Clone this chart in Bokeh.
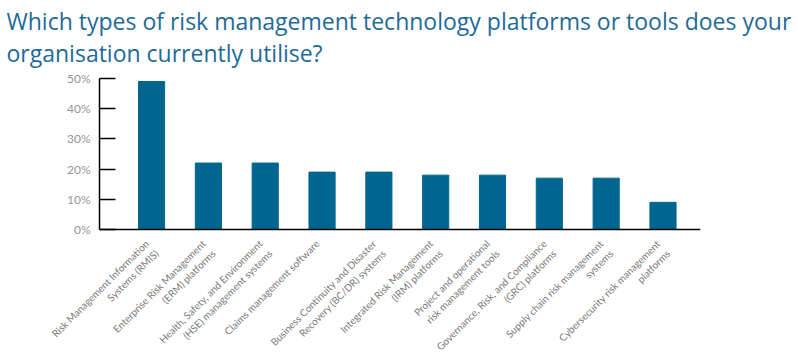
import math
from bokeh.plotting import figure
from bokeh.models import FixedTicker, PrintfTickFormatter, Range1d, Title, ColumnDataSource
from bokeh.core.properties import value
from bokeh.embed import file_html
from bokeh.resources import INLINE

categories = [
    "Risk Management Information\nSystems (RMIS)",
    "Enterprise Risk Management\n(ERM) platforms",
    "Health, Safety, and Environment\n(HSE) management systems",
    "Claims management software",
    "Business Continuity and Disaster\nRecovery (BC/DR) systems",
    "Integrated Risk Management\n(IRM) platforms",
    "Project and operational\nrisk management tools",
    "Governance, Risk, and Compliance\n(GRC) platforms",
    "Supply chain risk management\nsystems",
    "Cybersecurity risk management\nplatforms",
]
values = [49, 22, 22, 19, 19, 18, 18, 17, 17, 9]
y_ticks = [0, 10, 20, 30, 40, 50]

xs = list(range(len(categories)))
src = ColumnDataSource(dict(x=xs, top=values, label=categories, y0=[0] * len(xs)))

# layout constants (pixels -> data units)
px_per_cat = 56.8
x_start = -151 / px_per_cat
x_axis_left = -0.915
x_end = 9.66
px_per_unit = 151 / 50
frame_top = 68
y_end = 50 + (78 - frame_top) / px_per_unit
y_low = 50 - (354 - 78) / px_per_unit

p = figure(width=798, height=354, output_backend="svg", toolbar_location=None,
           x_range=Range1d(x_start, x_end), y_range=Range1d(y_low, y_end),
           x_axis_location=None,
           min_border_left=0, min_border_right=98, min_border_top=frame_top,
           min_border_bottom=0)

p.vbar(x="x", top="top", bottom=0, width=0.46, color="#00668f", source=src)

p.xgrid.visible = False
p.ygrid.visible = False
p.outline_line_color = None

p.segment(x0=[x_axis_left], y0=[0], x1=[x_end], y1=[0], line_color="black", line_width=1.5)

p.text(x="x", y="y0", text="label", source=src, angle=math.pi / 4,
       text_align="right", text_baseline="top", y_offset=8, x_offset=-9,
       text_font=value("Lato"), text_font_size="10px", text_color="#7a7a7a",
       text_line_height=1.15)

p.yaxis.fixed_location = x_axis_left
p.yaxis.bounds = (0, 50)
p.yaxis.ticker = FixedTicker(ticks=y_ticks)
p.yaxis.formatter = PrintfTickFormatter(format="%d%%")
p.yaxis.major_tick_in = 16
p.yaxis.major_tick_out = 0
p.yaxis.minor_tick_line_color = None
p.yaxis.axis_line_color = "black"
p.yaxis.major_tick_line_color = "black"
p.yaxis.axis_line_width = 1.5
p.yaxis.major_tick_line_width = 1.5
p.yaxis.major_label_text_font = "Lato"
p.yaxis.major_label_text_font_size = "12px"
p.yaxis.major_label_text_color = "#959595"
p.yaxis.major_label_standoff = 9

t = Title(text="Which types of risk management technology platforms or tools does your\norganisation currently utilise?",
          text_font="Open Sans", text_font_size="23px", text_font_style="normal",
          text_color="#1f6a99", align="left", offset=6, standoff=0)
p.add_layout(t, "above")

open("out.html", "w").write(file_html(p, INLINE))
